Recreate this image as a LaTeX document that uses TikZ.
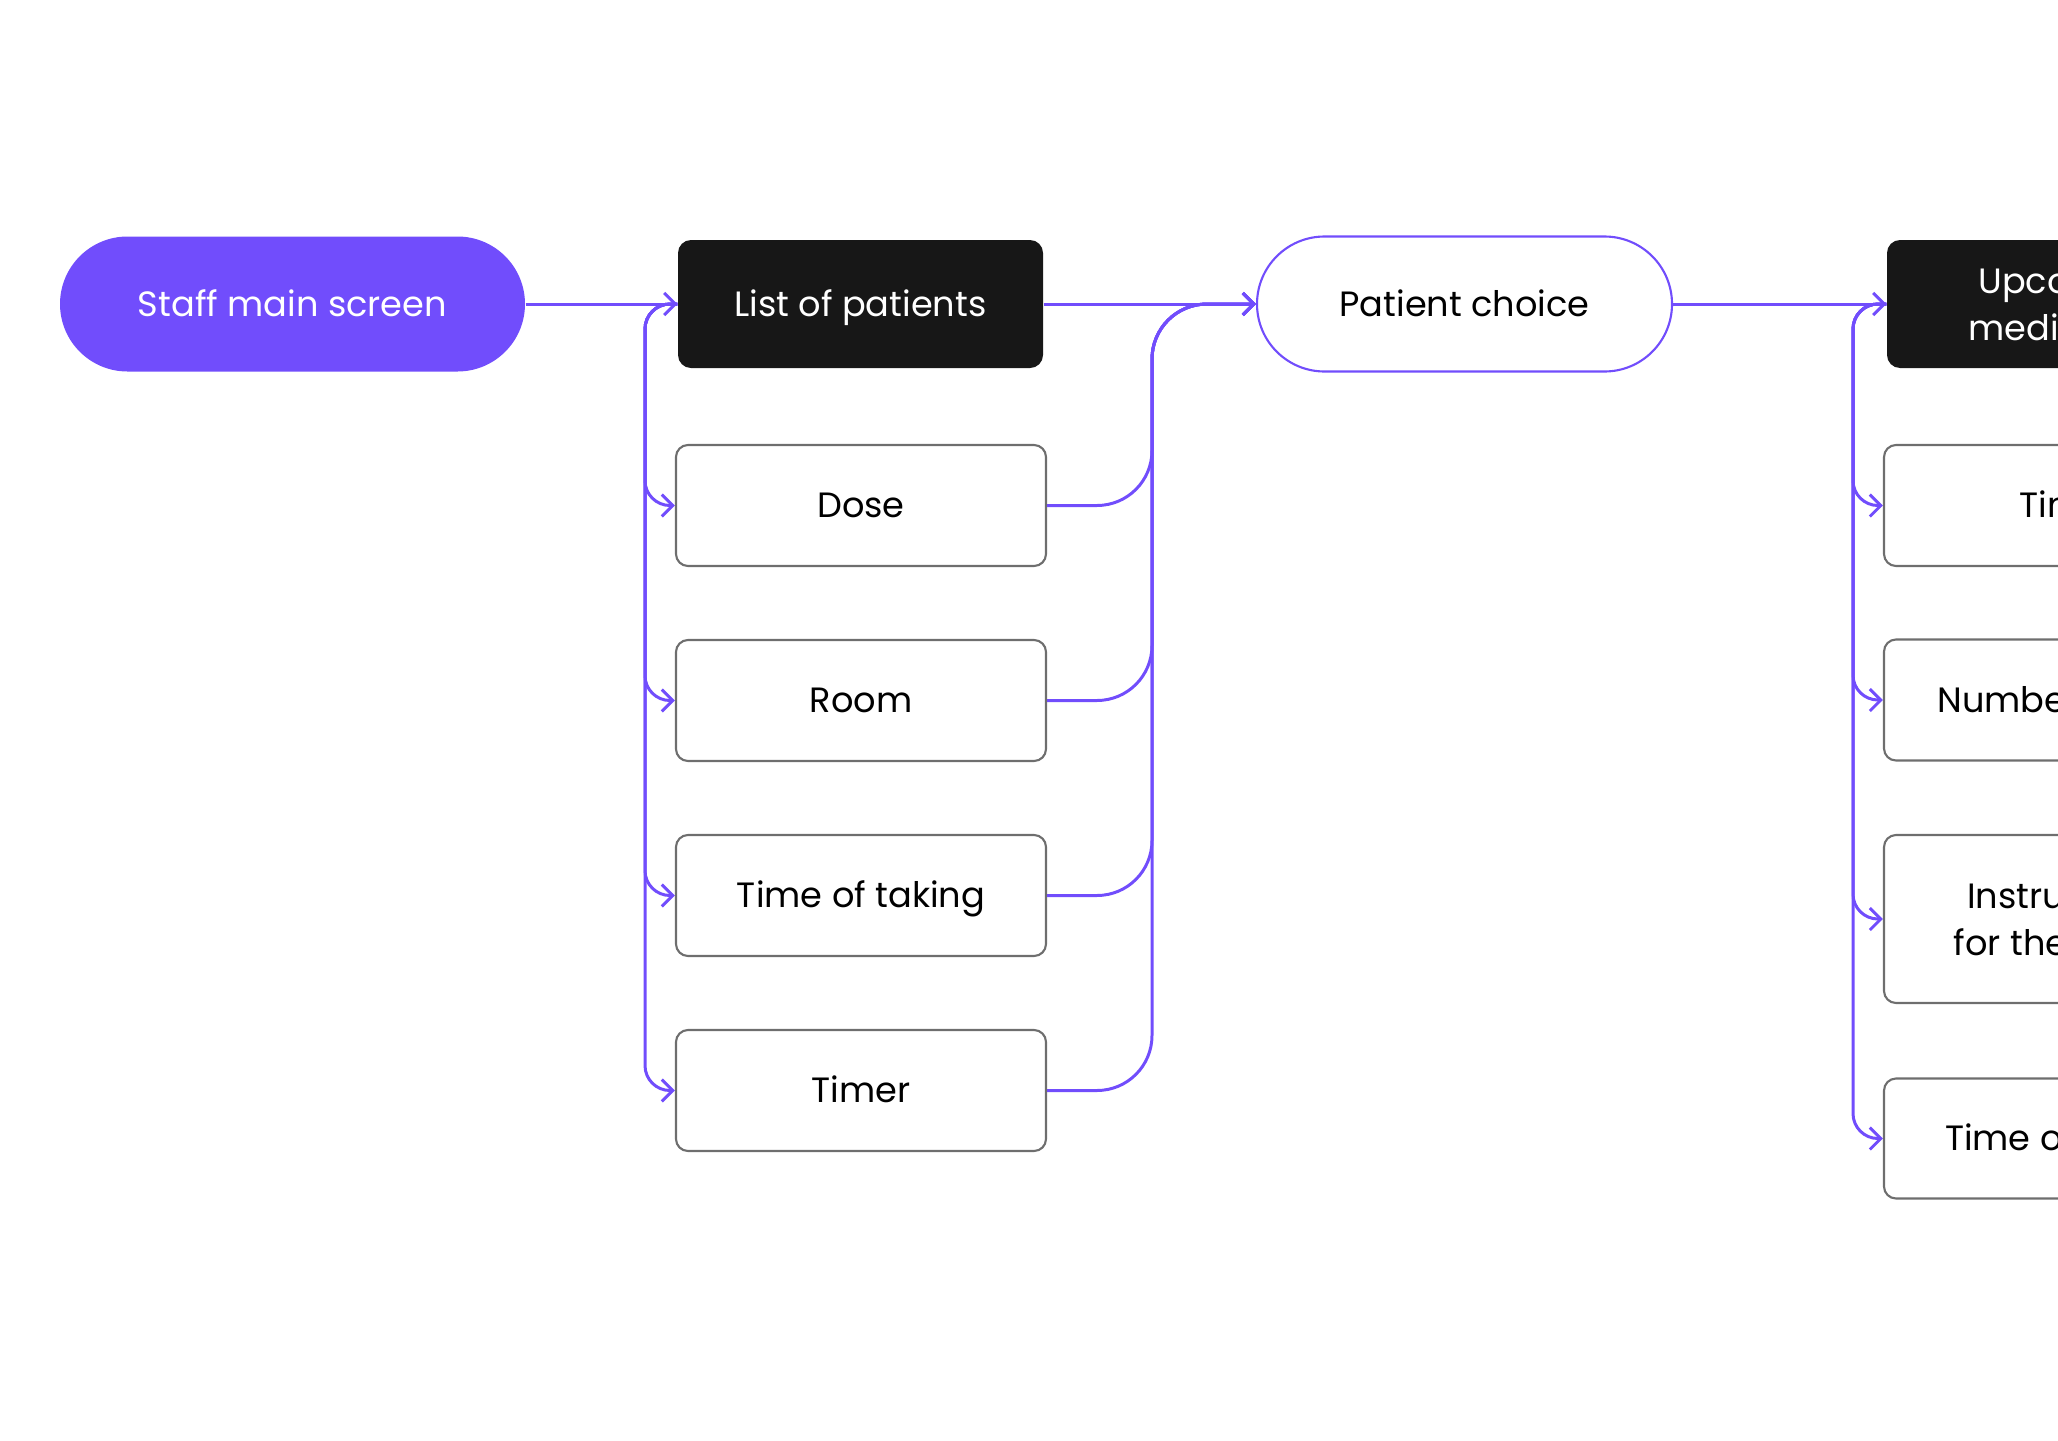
\documentclass[tikz,border=0pt]{standalone}
\usepackage{fontspec}
\setmainfont{Poppins}
\usetikzlibrary{arrows.meta}

\definecolor{brandpurple}{RGB}{113,77,252}
\definecolor{nearblack}{RGB}{23,23,23}
\definecolor{boxgray}{RGB}{110,110,110}

\newcommand{\boxfont}{\fontsize{10}{13.4}\selectfont}

\tikzset{
	oneline/.style={text height=0.7em, text depth=0em},
	pill/.style={rounded corners=0.675cm, minimum width=4.65cm, minimum height=1.35cm,
		align=center, font=\boxfont, oneline},
	darkbox/.style={fill=nearblack, text=white, rounded corners=0.13cm,
		minimum width=3.65cm, minimum height=1.28cm, align=center, font=\boxfont},
	box/.style={draw=boxgray, line width=0.6pt, rounded corners=0.12cm,
		minimum width=3.7cm, minimum height=1.21cm, align=center, font=\boxfont},
	link/.style={draw=brandpurple, line width=0.85pt,
		-{Straight Barb[length=1.1mm,width=2.2mm]}},
}

\begin{document}
\begin{tikzpicture}

	\useasboundingbox (0,0) rectangle (20.58,-14.40);
	\clip (0,0) rectangle (20.58,-14.40);

	% start
	\node[pill,fill=brandpurple,text=white] (staff) at (2.925,-3.04) {Staff main screen};

	% list of patients
	\node[darkbox,oneline] (patients) at (8.605,-3.04) {List of patients};
	\node[box,oneline] (dose) at (8.61,-5.055) {Dose};
	\node[box,oneline] (room) at (8.61,-7.005) {Room};
	\node[box,oneline] (taking) at (8.61,-8.955) {Time of taking};
	\node[box,oneline] (timer) at (8.61,-10.905) {Timer};

	\coordinate (busL) at (6.45,0);
	\coordinate (busM) at (11.52,0);

	% patient choice
	\node[pill,draw=brandpurple,line width=0.6pt,minimum width=4.15cm] (choice) at (14.645,-3.04) {Patient choice};

	% upcoming medication
	\node[darkbox] (upcoming) at (20.695,-3.04) {Upcoming\\medication};
	\node[box,oneline] (medtimer) at (20.69,-5.055) {Timer};
	\node[box,oneline] (pills) at (20.69,-7.00) {Number of pills};
	\node[box,minimum height=1.68cm] (instr) at (20.69,-9.19) {Instructions\\for the intake};
	\node[box,oneline,minimum height=1.2cm] (medtaking) at (20.69,-11.385) {Time of taking};

	\coordinate (busR) at (18.53,0);

	% links
	\draw[link] (staff.east) -- (patients.west);
	\draw[link,rounded corners=0.25cm] (patients.west) -| (busL |- dose.west) -- (dose.west);
	\draw[link,rounded corners=0.25cm] (patients.west) -| (busL |- room.west) -- (room.west);
	\draw[link,rounded corners=0.25cm] (patients.west) -| (busL |- taking.west) -- (taking.west);
	\draw[link,rounded corners=0.25cm] (patients.west) -| (busL |- timer.west) -- (timer.west);

	\draw[link] (patients.east) -- (choice.west);
	\draw[link,rounded corners=0.55cm] (dose.east) -| (busM |- choice.west) -- (choice.west);
	\draw[link,rounded corners=0.55cm] (room.east) -| (busM |- choice.west) -- (choice.west);
	\draw[link,rounded corners=0.55cm] (taking.east) -| (busM |- choice.west) -- (choice.west);
	\draw[link,rounded corners=0.55cm] (timer.east) -| (busM |- choice.west) -- (choice.west);

	\draw[link] (choice.east) -- (upcoming.west);
	\draw[link,rounded corners=0.25cm] (upcoming.west) -| (busR |- medtimer.west) -- (medtimer.west);
	\draw[link,rounded corners=0.25cm] (upcoming.west) -| (busR |- pills.west) -- (pills.west);
	\draw[link,rounded corners=0.25cm] (upcoming.west) -| (busR |- instr.west) -- (instr.west);
	\draw[link,rounded corners=0.25cm] (upcoming.west) -| (busR |- medtaking.west) -- (medtaking.west);

\end{tikzpicture}
\end{document}
